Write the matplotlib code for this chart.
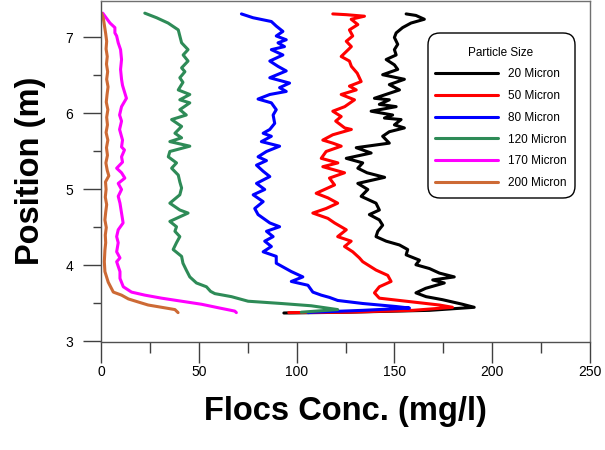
import matplotlib
matplotlib.use("Agg")
import matplotlib.pyplot as plt
from matplotlib.ticker import MultipleLocator
from matplotlib.patches import FancyBboxPatch
from matplotlib.transforms import IdentityTransform

plt.rcParams['font.family'] = ['Liberation Sans', 'DejaVu Sans']

# ---- data (position in m, concentration in mg/l) ----
black_y = [7.31, 7.29, 7.24, 7.19, 7.13, 7.06, 7.00, 6.91, 6.84, 6.77, 6.71, 6.64,
           6.58, 6.51, 6.45, 6.38, 6.31, 6.20, 6.18, 6.12, 6.09, 6.03, 5.98, 5.94,
           5.92, 5.85, 5.81, 5.76, 5.70, 5.61, 5.55, 5.48, 5.41, 5.35, 5.28, 5.22,
           5.16, 5.08, 5.00, 4.91, 4.82, 4.73, 4.67, 4.60, 4.53, 4.45, 4.38, 4.32,
           4.27, 4.21, 4.14, 4.07, 4.01, 3.96, 3.90, 3.85, 3.81, 3.77, 3.70, 3.64,
           3.59, 3.55, 3.49, 3.45, 3.41, 3.385, 3.375]
black_x = [156, 161, 165.3, 158.5, 154.2, 150.9, 150, 151.7, 150, 150.9, 145.8, 150,
           151.7, 144, 155.1, 147.4, 152.6, 139.8, 147.4, 142.3, 150.9, 138.1, 149.1, 144.9,
           153.4, 150, 155.1, 147.4, 144, 147.4, 130.5, 138.1, 125.4, 133.8, 131.3, 136,
           145, 131.3, 136.4, 133, 140.6, 142.3, 137.2, 142.3, 144, 141.5, 140.6, 145.8,
           152.6, 156.8, 156, 162.8, 161, 167.9, 173, 180.6, 169.6, 175.5, 166, 161,
           166.2, 174.6, 184.8, 190.8, 167.9, 125.4, 93.5]

red_y = [7.31, 7.30, 7.28, 7.24, 7.17, 7.10, 7.02, 6.95, 6.88, 6.75, 6.69, 6.62,
         6.53, 6.42, 6.36, 6.31, 6.25, 6.18, 6.09, 6.03, 5.96, 5.90, 5.81, 5.79,
         5.72, 5.65, 5.61, 5.57, 5.50, 5.41, 5.35, 5.30, 5.22, 5.15, 5.06, 4.95,
         4.89, 4.82, 4.75, 4.69, 4.62, 4.56, 4.47, 4.38, 4.32, 4.25, 4.18, 4.10,
         4.05, 3.94, 3.87, 3.79, 3.72, 3.64, 3.57, 3.52, 3.48, 3.45, 3.41, 3.385, 3.38]
red_x = [118.5, 125.4, 134.7, 127.9, 131.3, 127, 128.7, 125.4, 128, 122.8, 127, 128,
         131, 133, 127, 130.5, 122.8, 129.6, 124.6, 118.5, 122.8, 120, 124.6, 128,
         118.5, 113.4, 118.5, 122.8, 115.1, 112.6, 121.1, 113.4, 124.5, 116.8, 119.4, 110,
         116, 121, 115.1, 108.3, 116, 119.4, 125.4, 121, 127.9, 124.5, 128.7, 132.1,
         133.8, 140.6, 146.6, 148.3, 142.3, 139.8, 142.3, 159.4, 173, 179.7, 159.4, 125.4, 96]

blue_y = [7.31, 7.26, 7.21, 7.15, 7.08, 7.02, 6.97, 6.93, 6.88, 6.84, 6.77, 6.69,
          6.62, 6.56, 6.47, 6.40, 6.34, 6.29, 6.25, 6.19, 6.14, 6.05, 5.98, 5.87,
          5.79, 5.74, 5.70, 5.63, 5.57, 5.50, 5.43, 5.38, 5.32, 5.24, 5.17, 5.08,
          5.00, 4.93, 4.84, 4.75, 4.67, 4.56, 4.51, 4.45, 4.38, 4.32, 4.25, 4.18,
          4.12, 4.03, 3.92, 3.85, 3.79, 3.74, 3.65, 3.61, 3.58, 3.54, 3.50, 3.46,
          3.44, 3.41, 3.385, 3.38]
blue_x = [71.8, 77.7, 87.1, 89.6, 93, 89.6, 94.7, 90.5, 93.8, 87.1, 93, 86.3,
          90.5, 94.7, 86.3, 96.4, 91.3, 94.7, 86.3, 80.3, 87.1, 89.6, 88, 88.8,
          86.3, 82.9, 87.1, 82, 91.3, 84.6, 80.3, 84.6, 79.5, 82.9, 86.3, 79.5,
          83.7, 77.8, 82.9, 78.6, 80.3, 86.3, 91.3, 84.6, 88, 83.7, 87.1, 82.9,
          89.6, 89.6, 97.3, 103.2, 97.3, 105.8, 108.3, 112.6, 116.8, 121, 133.8, 150.9,
          157.7, 133.8, 108.3, 105.8]

green_y = [7.32, 7.26, 7.19, 7.10, 7.02, 6.93, 6.84, 6.77, 6.69, 6.60, 6.55, 6.47,
           6.41, 6.31, 6.25, 6.18, 6.14, 6.05, 5.98, 5.92, 5.83, 5.74, 5.68, 5.63,
           5.57, 5.50, 5.43, 5.35, 5.28, 5.19, 5.10, 5.02, 4.93, 4.82, 4.73, 4.69,
           4.58, 4.51, 4.45, 4.38, 4.30, 4.21, 4.12, 4.03, 3.94, 3.85, 3.77, 3.72,
           3.66, 3.63, 3.59, 3.53, 3.50, 3.47, 3.42, 3.40, 3.385]
green_x = [22.4, 28.4, 34.3, 39.5, 40.3, 41.2, 44.5, 42, 44.5, 41.2, 42.9, 40.3,
           41.9, 39.5, 45.4, 40.3, 45.4, 40.3, 43.6, 36.1, 41.2, 37.8, 41.2, 35.2,
           45.4, 35.2, 34.4, 38.6, 36.1, 39.5, 40.3, 41.2, 40.3, 35.2, 40.3, 44.5,
           35.2, 38.6, 37.8, 40.3, 38.6, 36.9, 41.2, 41.9, 43.6, 45.4, 48.8, 53.9,
           56, 58.2, 66.7, 75.2, 92.2, 107.5, 121, 110, 102.4]

magenta_y = [7.32, 7.19, 7.13, 7.06, 7.02, 6.93, 6.84, 6.71, 6.58, 6.45, 6.37, 6.20,
             6.09, 5.98, 5.90, 5.79, 5.65, 5.56, 5.52, 5.43, 5.36, 5.28, 5.22, 5.15,
             5.08, 5.00, 4.91, 4.82, 4.69, 4.56, 4.47, 4.38, 4.30, 4.18, 4.10, 4.05,
             3.92, 3.83, 3.72, 3.65, 3.61, 3.57, 3.53, 3.49, 3.44, 3.40, 3.38]
magenta_x = [0.9, 4.6, 7.1, 7.1, 8, 8.8, 10, 10.5, 10, 10.5, 11, 13,
             10.5, 9.5, 10.5, 9.5, 11, 10.5, 12, 10.5, 11, 8, 10.5, 12.2,
             8.8, 10.5, 8.8, 9.7, 10.5, 11.3, 8.8, 8, 8.8, 8, 9.7, 8,
             9.7, 9.7, 11.4, 15.6, 22.4, 31, 41.2, 51.4, 60.7, 68.4, 69.2]

brown_y = [7.32, 7.25, 7.15, 7.05, 6.95, 6.85, 6.75, 6.65, 6.55, 6.45, 6.35, 6.25,
           6.15, 6.05, 5.95, 5.85, 5.75, 5.65, 5.55, 5.45, 5.35, 5.25, 5.18, 5.10,
           5.00, 4.90, 4.80, 4.70, 4.60, 4.50, 4.40, 4.30, 4.20, 4.05, 3.92, 3.78,
           3.65, 3.61, 3.56, 3.52, 3.48, 3.45, 3.42, 3.38]
brown_x = [0.3, 1.2, 1.8, 2.4, 2.9, 2.6, 3.2, 2.8, 3.4, 2.9, 3.6, 3.1,
           2.7, 3.5, 2.9, 3.3, 2.6, 3.5, 2.8, 3.3, 2.5, 3.2, 4.0, 2.3,
           2.6, 2.2, 2.9, 2.4, 2.0, 2.7, 2.2, 2.4, 2.0, 1.7, 2.0, 3.7,
           6.3, 10.5, 14, 19, 24.1, 31, 37.8, 39.4]

labels = ['20 Micron', '50 Micron', '80 Micron', '120 Micron', '170 Micron', '200 Micron']
colors = ['#000000', '#ff0000', '#0000ff', '#2e8b57', '#ff00ff', '#cd6a35']
series = [(black_x, black_y), (red_x, red_y), (blue_x, blue_y),
          (green_x, green_y), (magenta_x, magenta_y), (brown_x, brown_y)]

W, H = 605, 450
fig = plt.figure(figsize=(W / 100, H / 100), dpi=100)
ax = fig.add_axes([101/W, 1 - 341.5/H, 489/W, 340.5/H])

for (xs, ys), c, lab in zip(series, colors, labels):
    ax.plot(xs, ys, color=c, lw=2.2, label=lab, solid_joinstyle='round',
            solid_capstyle='round')

ax.set_xlim(0, 250)
ax.set_ylim(3, 7.48)
ax.xaxis.set_major_locator(MultipleLocator(50))
ax.xaxis.set_minor_locator(MultipleLocator(25))
ax.yaxis.set_major_locator(MultipleLocator(1))
ax.yaxis.set_minor_locator(MultipleLocator(0.5))

for s in ax.spines.values():
    s.set_color('#505050')
    s.set_linewidth(1.0)
ax.spines['top'].set_color('#707070')
ax.spines['right'].set_color('#707070')

ax.tick_params(axis='x', which='major', direction='out', length=15, width=1,
               color='#404040', labelsize=10, pad=2)
ax.tick_params(axis='x', which='minor', direction='out', length=8, width=1, color='#404040')
ax.tick_params(axis='y', which='major', direction='out', length=13, width=1,
               color='#404040', labelsize=10, pad=7)
ax.tick_params(axis='y', which='minor', direction='out', length=6, width=1, color='#404040')

ax.set_xlabel('Flocs Conc. (mg/l)', fontsize=23.5, fontweight='bold', labelpad=12)
ax.set_ylabel('Position (m)', fontsize=23.5, fontweight='bold', labelpad=14)

# legend frame (rounded box) drawn in pixel space
frame = FancyBboxPatch((428, H - 198), 147, 165,
                       boxstyle='round,pad=0,rounding_size=12',
                       transform=IdentityTransform(), facecolor='white',
                       edgecolor='black', linewidth=1.0, zorder=4.5)
ax.add_artist(frame)

leg = ax.legend(title='Particle Size', loc='upper left',
                bbox_to_anchor=(435 / W, 1 - 47.5 / H),
                bbox_transform=fig.transFigure,
                fontsize=8.5, title_fontsize=8.5, frameon=False,
                handlelength=5.3, handletextpad=0.85, labelspacing=0.84,
                borderpad=0, borderaxespad=0)
leg._legend_box.sep = 6
leg.set_zorder(6)

fig.savefig('out.png', dpi=100)
